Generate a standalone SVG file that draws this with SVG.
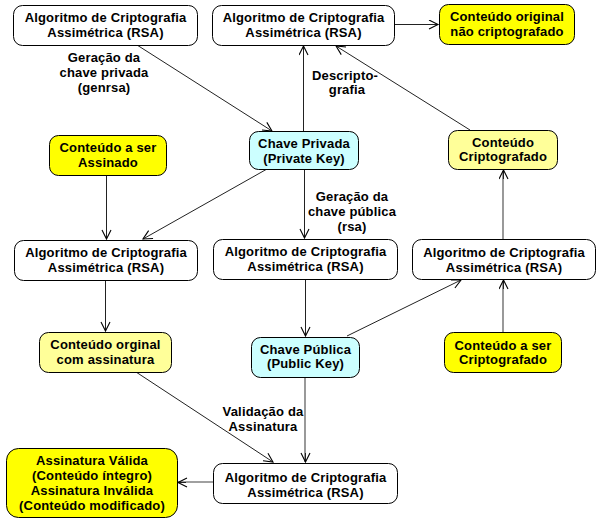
<svg xmlns="http://www.w3.org/2000/svg" width="597" height="525" viewBox="0 0 597 525">
<style>
.b{stroke:#000;stroke-width:1}
.w{fill:#fff}.y{fill:#ffff00}.ly{fill:#ffff99}.c{fill:#ccffff}
text{font-family:"Liberation Sans",Arial,sans-serif;font-weight:bold;font-size:13px;letter-spacing:0.17px;fill:#000;text-anchor:middle}
.e{fill:none;stroke:#222;stroke-width:1}
.g{fill:none;stroke:#808080;stroke-width:1.6}
</style>
<defs>
<marker id="ah" markerUnits="userSpaceOnUse" markerWidth="12" markerHeight="12" refX="10" refY="5" orient="auto">
<path d="M1,0.5 L10,5 L1,9.5" fill="none" stroke="#000" stroke-width="1.1"/>
</marker>
</defs>
<rect width="597" height="525" fill="#fff"/>
<g id="connectors">
<line class="e" x1="137" y1="45" x2="272" y2="131" marker-end="url(#ah)"/>
<line class="e" x1="303.5" y1="131" x2="303.5" y2="46" marker-end="url(#ah)"/>
<line class="e" x1="470" y1="130" x2="336" y2="46" marker-end="url(#ah)"/>
<line class="e" x1="394" y1="24.5" x2="438" y2="24.5" marker-end="url(#ah)"/>
<line class="e" x1="106.5" y1="175" x2="106.5" y2="239" marker-end="url(#ah)"/>
<line class="e" x1="267" y1="169" x2="143" y2="239" marker-end="url(#ah)"/>
<line class="e" x1="304.5" y1="169" x2="304.5" y2="238" marker-end="url(#ah)"/>
<line class="e" x1="105.5" y1="280" x2="105.5" y2="331" marker-end="url(#ah)"/>
<line class="e" x1="305.5" y1="279" x2="305.5" y2="336" marker-end="url(#ah)"/>
<line class="e" x1="347" y1="336" x2="461" y2="280" marker-end="url(#ah)"/>
<line class="g" x1="503" y1="332" x2="503" y2="281"/>
<line class="e" x1="503.5" y1="289" x2="503.5" y2="280" marker-end="url(#ah)"/>
<line class="g" x1="503" y1="239" x2="503" y2="171"/>
<line class="e" x1="503.5" y1="179" x2="503.5" y2="170" marker-end="url(#ah)"/>
<line class="e" x1="136" y1="372" x2="273" y2="462" marker-end="url(#ah)"/>
<line class="g" x1="305" y1="377" x2="305" y2="462"/>
<line class="e" x1="305.5" y1="453" x2="305.5" y2="462" marker-end="url(#ah)"/>
<line class="g" x1="213" y1="482" x2="178" y2="482"/>
<line class="e" x1="186" y1="482.5" x2="178" y2="482.5" marker-end="url(#ah)"/>
</g>
<g id="labels">
<text x="104" y="61.5">Geração da</text>
<text x="104" y="76.5">chave privada</text>
<text x="104" y="91.5">(genrsa)</text>
<text x="345" y="79.5">Descripto-</text>
<text x="347" y="93.5">grafia</text>
<text x="352" y="200.5">Geração da</text>
<text x="352" y="215.5">chave pública</text>
<text x="352" y="230.5">(rsa)</text>
<text x="263" y="415.5">Validação da</text>
<text x="263" y="430.5">Assinatura</text>
</g>
<g id="a1"><rect class="b w" x="13.5" y="5.5" width="184" height="40" rx="9"/><text x="105.5" y="22">Algoritmo de Criptografia</text><text x="105.5" y="37">Assimétrica (RSA)</text></g>
<g id="a2"><rect class="b w" x="212.5" y="5.5" width="182" height="40" rx="9"/><text x="303.5" y="22">Algoritmo de Criptografia</text><text x="303.5" y="37">Assimétrica (RSA)</text></g>
<g id="original"><rect class="b y" x="439.5" y="4.5" width="135" height="40" rx="9"/><text x="507" y="21">Conteúdo original</text><text x="507" y="36">não criptografado</text></g>
<g id="chave-privada"><rect class="b c" x="249.5" y="131.5" width="109" height="38" rx="9"/><text x="304" y="148">Chave Privada</text><text x="304" y="162.5">(Private Key)</text></g>
<g id="criptografado"><rect class="b ly" x="448.5" y="130.5" width="109" height="39" rx="9"/><text x="503" y="146.5">Conteúdo</text><text x="503" y="161">Criptografado</text></g>
<g id="assinar"><rect class="b y" x="49.5" y="135.5" width="117" height="40" rx="9"/><text x="108" y="151.5">Conteúdo a ser</text><text x="108" y="166.5">Assinado</text></g>
<g id="a3"><rect class="b w" x="14.5" y="240.5" width="183" height="40" rx="9"/><text x="106" y="256.5">Algoritmo de Criptografia</text><text x="106" y="272">Assimétrica (RSA)</text></g>
<g id="a4"><rect class="b w" x="213.5" y="239.5" width="184" height="40" rx="9"/><text x="305.5" y="255.5">Algoritmo de Criptografia</text><text x="305.5" y="271">Assimétrica (RSA)</text></g>
<g id="a5"><rect class="b w" x="412.5" y="239.5" width="183" height="40" rx="9"/><text x="504" y="256.5">Algoritmo de Criptografia</text><text x="504" y="271.5">Assimétrica (RSA)</text></g>
<g id="com-assinatura"><rect class="b ly" x="39.5" y="332.5" width="132" height="40" rx="9"/><text x="105.5" y="348.5">Conteúdo orginal</text><text x="105.5" y="363.5">com assinatura</text></g>
<g id="chave-publica"><rect class="b c" x="251.5" y="337.5" width="108" height="40" rx="9"/><text x="305.5" y="353.5">Chave Pública</text><text x="305.5" y="367.5">(Public Key)</text></g>
<g id="criptografar"><rect class="b y" x="444.5" y="332.5" width="117" height="40" rx="9"/><text x="503" y="350">Conteúdo a ser</text><text x="503" y="364">Criptografado</text></g>
<g id="a6"><rect class="b w" x="213.5" y="463.5" width="184" height="40" rx="9"/><text x="305.5" y="481.5">Algoritmo de Criptografia</text><text x="305.5" y="496.5">Assimétrica (RSA)</text></g>
<g id="resultado"><rect class="b y" x="6.5" y="448.5" width="171" height="69" rx="12"/><text x="92" y="464.5">Assinatura Válida</text><text x="92" y="479.5">(Conteúdo íntegro)</text><text x="92" y="494.5">Assinatura Inválida</text><text x="92" y="509.5">(Conteúdo modificado)</text></g>
</svg>
